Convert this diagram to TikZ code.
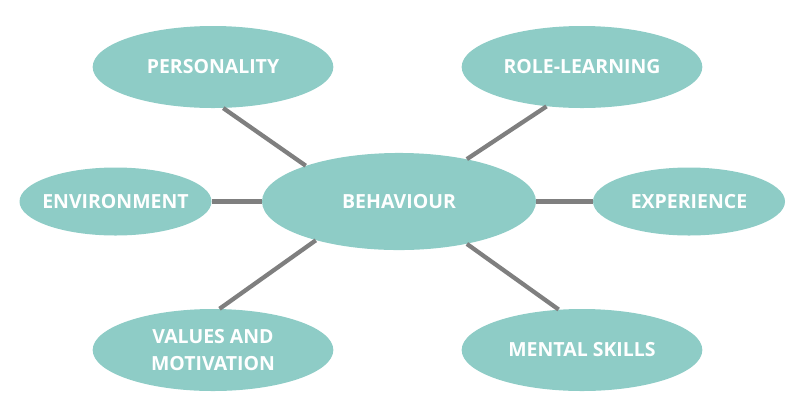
\documentclass[tikz,border=0pt]{standalone}
\usepackage{fontspec}
\setmainfont{Open Sans}
\usepackage{tikz}
\usetikzlibrary{shapes.geometric}
\definecolor{mteal}{HTML}{8ECCC6}
\definecolor{mline}{HTML}{7F7F7F}
\tikzset{
  sbub/.style={ellipse, fill=mteal, text=white, inner sep=-15pt,
               font=\fontsize{14.6}{20.5}\selectfont\bfseries, align=center},
  bigbub/.style={sbub, minimum width=205.5pt, minimum height=72.8pt},
  topbub/.style={sbub, minimum width=180.5pt, minimum height=61.5pt},
  sidebub/.style={sbub, minimum width=144pt, minimum height=51pt},
  link/.style={mline, line width=3.2pt},
}
\begin{document}
\begin{tikzpicture}[x=0.75pt, y=-0.75pt]
  \useasboundingbox (0,0) rectangle (800,405);
  % hub and surrounding bubbles
  \node[bigbub] (behav) at (399,201.5) {BEHAVIOUR};
  \node[topbub] (pers) at (213,67) {PERSONALITY};
  \node[topbub] (role) at (582,67) {ROLE-LEARNING};
  \node[sidebub] (env) at (115.5,201.5) {ENVIRONMENT};
  \node[sidebub] (exper) at (689,201.5) {EXPERIENCE};
  \node[topbub] (values) at (213,350) {VALUES AND\\MOTIVATION};
  \node[topbub] (mental) at (582,350) {MENTAL SKILLS};

  \draw[link] (pers.-76) -- (behav.159);
  \draw[link] (role.-132) -- (behav.32);
  \draw[link] (env.east) -- (behav.west);
  \draw[link] (behav.east) -- (exper.west);
  \draw[link] (values.81) -- (behav.205);
  \draw[link] (mental.120) -- (behav.-32);
\end{tikzpicture}
\end{document}
